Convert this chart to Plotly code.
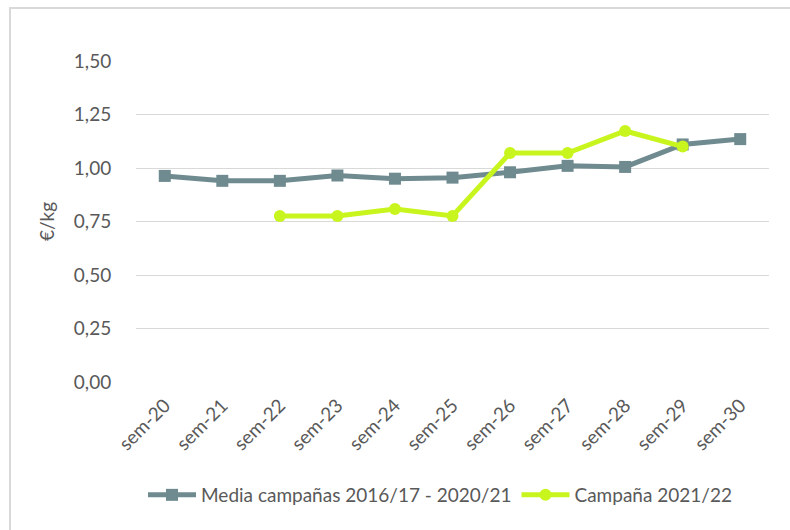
import plotly.graph_objects as go

categories = ["sem-20", "sem-21", "sem-22", "sem-23", "sem-24", "sem-25",
              "sem-26", "sem-27", "sem-28", "sem-29", "sem-30"]
media = [0.963, 0.940, 0.940, 0.965, 0.950, 0.955, 0.980, 1.010, 1.005, 1.110, 1.135]
campana = [None, None, 0.776, 0.776, 0.808, 0.776, 1.070, 1.070, 1.173, 1.100, None]
ytick_vals = [0, 0.25, 0.5, 0.75, 1.0, 1.25, 1.5]
ytick_text = ["0,00", "0,25", "0,50", "0,75", "1,00", "1,25", "1,50"]

GRAY = "#6F8B90"
GREEN = "#C8F51E"
TXT = "#595959"
FONT = "Lato"
FS = 19

fig = go.Figure()
fig.add_trace(go.Scatter(
    x=categories, y=media, mode="lines+markers", name="Media campañas 2016/17 - 2020/21",
    line=dict(color=GRAY, width=5), marker=dict(symbol="square", size=12, color=GRAY)))
fig.add_trace(go.Scatter(
    x=categories, y=campana, mode="lines+markers", name="Campaña 2021/22",
    line=dict(color=GREEN, width=5), marker=dict(symbol="circle", size=12, color=GREEN)))

W, H = 790, 530
L, R, T, B = 136, 21, 61, 148
pw, ph = W - L - R, H - T - B

fig.update_layout(
    width=W, height=H,
    margin=dict(l=L, r=R, t=T, b=B, pad=0),
    paper_bgcolor="white", plot_bgcolor="white",
    font=dict(family=FONT, size=FS, color=TXT),
    showlegend=True,
    legend=dict(orientation="h", x=(440 - L) / pw, xanchor="center", y=(382 - 495) / ph,
                yanchor="middle", font=dict(family=FONT, size=FS, color=TXT),
                itemwidth=48, traceorder="normal"),
    xaxis=dict(type="category", showgrid=False, showline=False, tickangle=-45,
               ticks="outside", ticklen=4, tickcolor="rgba(0,0,0,0)",
               tickfont=dict(family=FONT, size=FS, color=TXT), range=[-0.5, 10.5]),
    yaxis=dict(range=[0, 1.5], tickvals=ytick_vals, ticktext=ytick_text,
               showgrid=True, gridcolor="#D9D9D9", gridwidth=1, zeroline=False,
               showline=False, ticks="outside", ticklen=20, tickcolor="rgba(0,0,0,0)",
               tickfont=dict(family=FONT, size=FS, color=TXT),
               title=dict(text="€/kg", font=dict(family=FONT, size=FS, color=TXT), standoff=14)),
    shapes=[dict(type="rect", xref="paper", yref="paper",
                 x0=(10 - L) / pw, x1=1.2, y0=-0.8, y1=1 + (T - 8) / ph,
                 line=dict(color="#D9D9D9", width=2), fillcolor="rgba(0,0,0,0)", layer="below")],
)

fig.write_html("out.html", config={"displayModeBar": False},
               post_script="document.body.style.margin='0';")
